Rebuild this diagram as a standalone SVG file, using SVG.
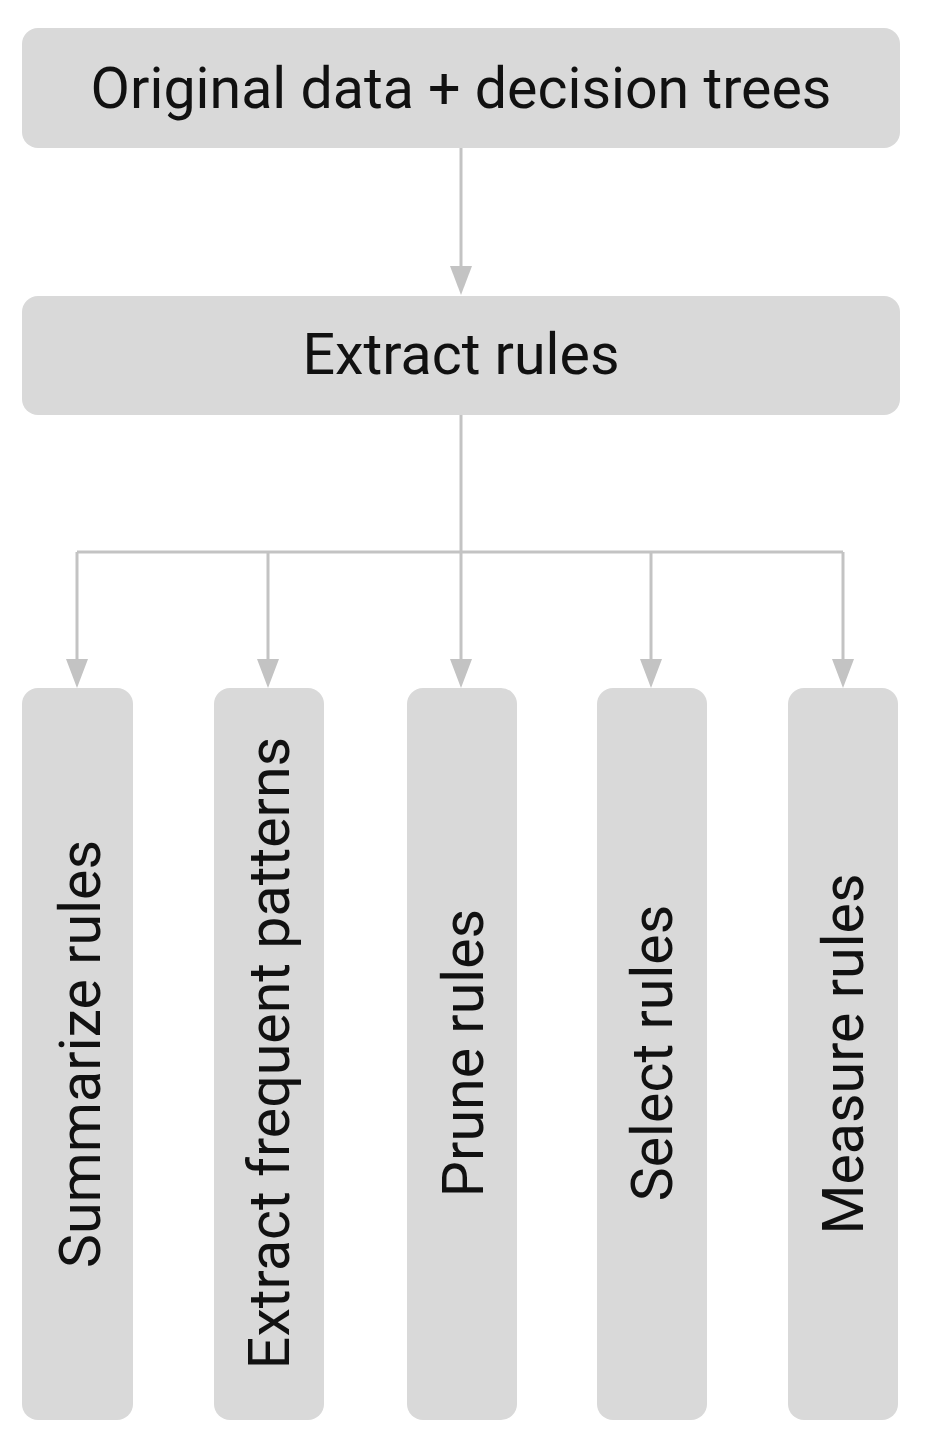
<svg xmlns="http://www.w3.org/2000/svg" width="929" height="1442" viewBox="0 0 929 1442">
<style>
.box{fill:#d9d9d9}
.lbl{font-family:Roboto,"Liberation Sans",sans-serif;font-size:57.3px;fill:#111;text-anchor:middle}
.con{stroke:#c3c3c3;stroke-width:3;fill:none}
.head{fill:#c3c3c3}
</style>
<rect width="929" height="1442" fill="#fff"/>
<g id="connectors">
<line class="con" x1="461" y1="148" x2="461" y2="266"/>
<path class="head" d="M450,266 L472,266 L461,295 Z"/>
<path class="con" d="M461,415 V552 M77,552 H843"/>
<line class="con" x1="77" y1="552" x2="77" y2="659"/>
<line class="con" x1="268" y1="552" x2="268" y2="659"/>
<line class="con" x1="461" y1="552" x2="461" y2="659"/>
<line class="con" x1="651" y1="552" x2="651" y2="659"/>
<line class="con" x1="843" y1="552" x2="843" y2="659"/>
<path class="head" d="M66,659 L88,659 L77,688 Z M257,659 L279,659 L268,688 Z M450,659 L472,659 L461,688 Z M640,659 L662,659 L651,688 Z M832,659 L854,659 L843,688 Z"/>
</g>
<g id="n-original">
<rect class="box" x="22" y="28" width="878" height="120" rx="16"/>
<text class="lbl" x="461" y="108">Original data + decision trees</text>
</g>
<g id="n-extract">
<rect class="box" x="22" y="296" width="878" height="119" rx="16"/>
<text class="lbl" x="461" y="374">Extract rules</text>
</g>
<g id="n-summarize">
<rect class="box" x="22" y="688" width="111" height="732" rx="16"/>
<text class="lbl" transform="translate(100,1054) rotate(-90)">Summarize rules</text>
</g>
<g id="n-frequent">
<rect class="box" x="214" y="688" width="110" height="732" rx="16"/>
<text class="lbl" transform="translate(289,1053) rotate(-90)">Extract frequent patterns</text>
</g>
<g id="n-prune">
<rect class="box" x="407" y="688" width="110" height="732" rx="16"/>
<text class="lbl" transform="translate(483,1053) rotate(-90)">Prune rules</text>
</g>
<g id="n-select">
<rect class="box" x="597" y="688" width="110" height="732" rx="16"/>
<text class="lbl" transform="translate(672,1053) rotate(-90)">Select rules</text>
</g>
<g id="n-measure">
<rect class="box" x="788" y="688" width="110" height="732" rx="16"/>
<text class="lbl" transform="translate(863,1054) rotate(-90)">Measure rules</text>
</g>
</svg>
